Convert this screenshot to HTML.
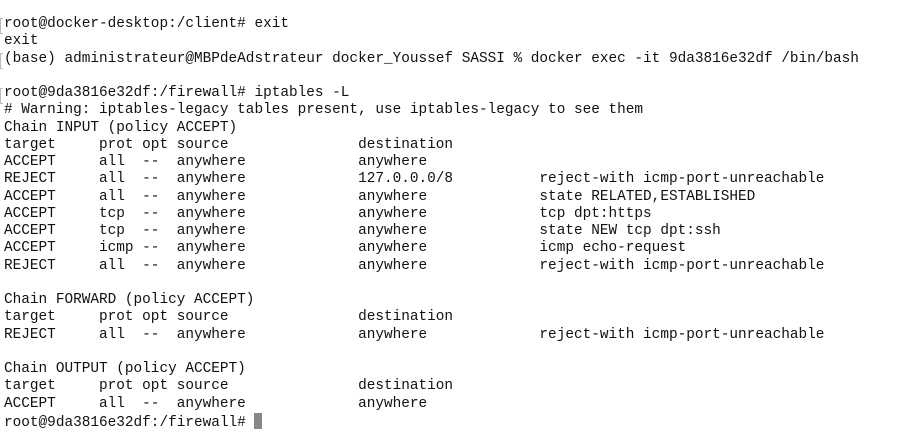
<!DOCTYPE html>
<html><head><style>
html,body{margin:0;padding:0;background:#fff;width:908px;height:436px;overflow:hidden}
pre{margin:0;position:absolute;left:4px;top:16px;font-family:"Liberation Mono","DejaVu Sans Mono",monospace;font-size:14.4px;line-height:17.25px;color:#111}
.b{position:absolute;left:0;width:2px;height:14px;border-left:1px solid #bbb;border-top:1px solid #bbb;border-bottom:1px solid #bbb}
.cur{display:inline-block;width:8px;height:16px;background:#888;vertical-align:-3px}
</style></head><body>
<div class="b" style="top:18px"></div>
<div class="b" style="top:53px"></div>
<div class="b" style="top:88px"></div>
<pre>root@docker-desktop:/client# exit
exit
(base) administrateur@MBPdeAdstrateur docker_Youssef SASSI % docker exec -it 9da3816e32df /bin/bash

root@9da3816e32df:/firewall# iptables -L
# Warning: iptables-legacy tables present, use iptables-legacy to see them
Chain INPUT (policy ACCEPT)
target     prot opt source               destination
ACCEPT     all  --  anywhere             anywhere
REJECT     all  --  anywhere             127.0.0.0/8          reject-with icmp-port-unreachable
ACCEPT     all  --  anywhere             anywhere             state RELATED,ESTABLISHED
ACCEPT     tcp  --  anywhere             anywhere             tcp dpt:https
ACCEPT     tcp  --  anywhere             anywhere             state NEW tcp dpt:ssh
ACCEPT     icmp --  anywhere             anywhere             icmp echo-request
REJECT     all  --  anywhere             anywhere             reject-with icmp-port-unreachable

Chain FORWARD (policy ACCEPT)
target     prot opt source               destination
REJECT     all  --  anywhere             anywhere             reject-with icmp-port-unreachable

Chain OUTPUT (policy ACCEPT)
target     prot opt source               destination
ACCEPT     all  --  anywhere             anywhere
root@9da3816e32df:/firewall# <span class="cur"></span></pre>
</body></html>
